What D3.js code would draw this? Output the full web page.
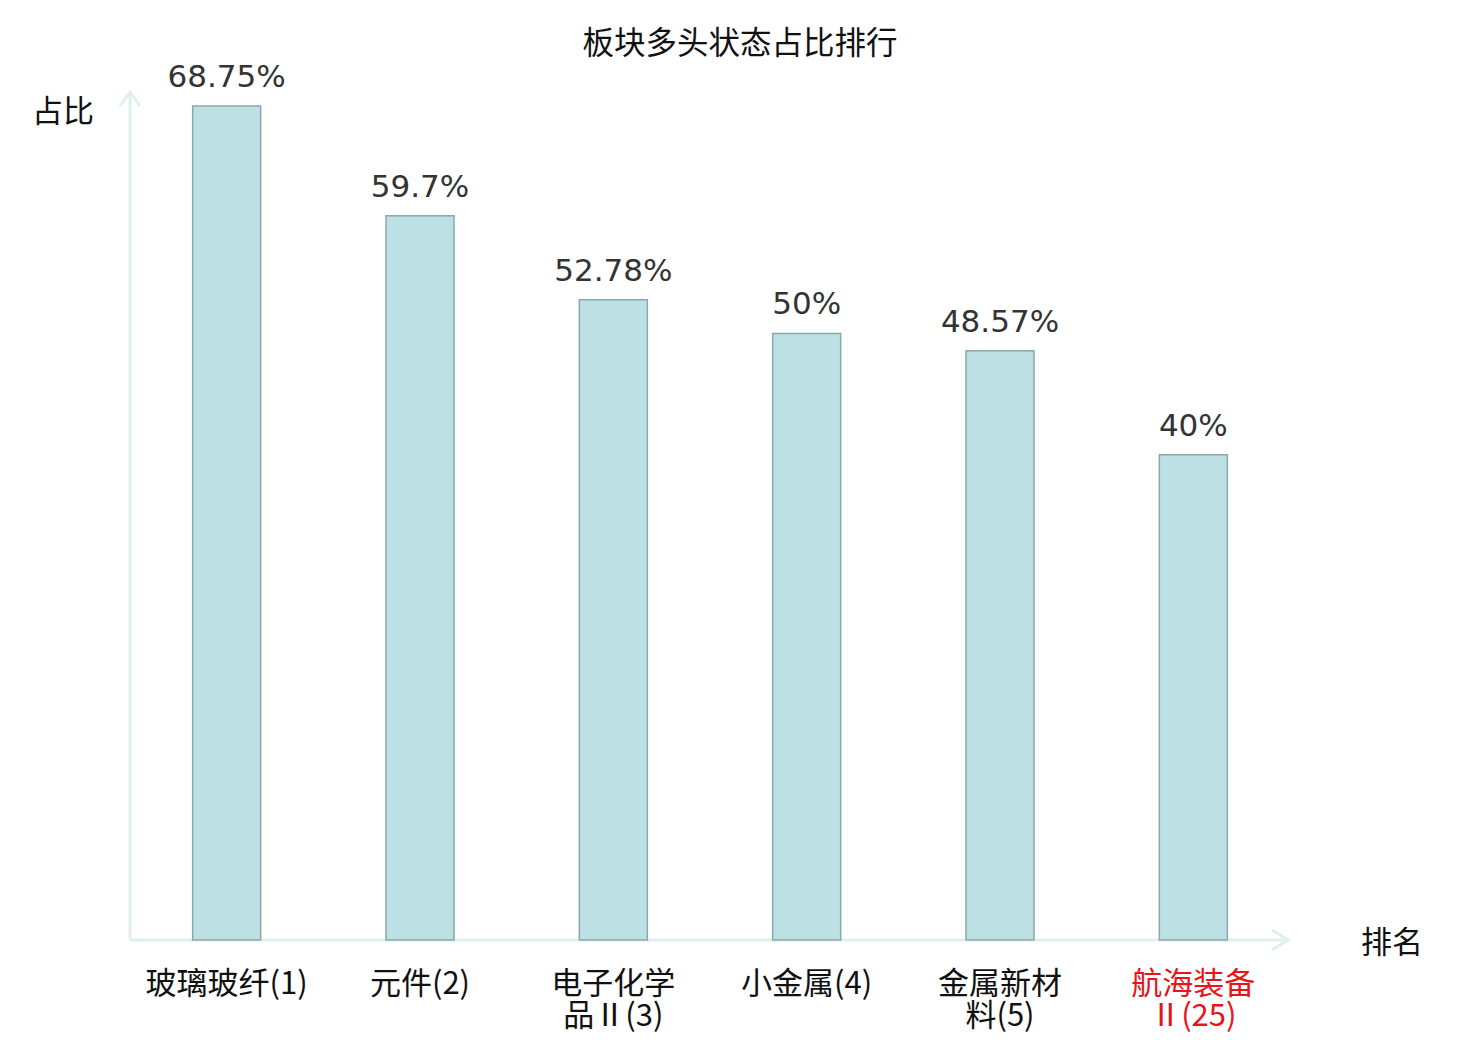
<!DOCTYPE html>
<html>
<head>
<meta charset="utf-8">
<script src="https://cdn.jsdelivr.net/npm/d3@7"></script>
<style>
body { margin: 0; background: #fff; }
</style>
</head>
<body>
<div id="chart"></div>
<script>
// data
var categories = ["玻璃玻纤(1)", "元件(2)", "电子化学品Ⅱ(3)", "小金属(4)", "金属新材料(5)", "航海装备Ⅱ(25)"];
var labelLines = [["玻璃玻纤(1)"], ["元件(2)"], ["电子化学", "品Ⅱ(3)"], ["小金属(4)"], ["金属新材", "料(5)"], ["航海装备", "Ⅱ(25)"]];
var values = [68.75, 59.7, 52.78, 50, 48.57, 40];
var valueLabels = ["68.75%", "59.7%", "52.78%", "50%", "48.57%", "40%"];
var highlight = [false, false, false, false, false, true];

var width = 1480, height = 1040;
var cjk = "'Noto Sans CJK SC', 'Noto Sans', sans-serif";
var axisColor = "#dff1ee";

var svg = d3.select("#chart").append("svg").attr("width", width).attr("height", height);

var x0 = 130, x1 = 1290, y0 = 940, yTop = 106;

var xscale = d3.scaleBand().domain(categories).range([x0, x1]).padding(0);
var yscale = d3.scaleLinear().domain([0, d3.max(values)]).range([y0, yTop]);
var barW = 68;

// title
svg.append("text").attr("x", 740).attr("y", 54).attr("text-anchor", "middle")
	.attr("font-family", cjk).attr("font-size", 31.5).attr("fill", "#111")
	.text("板块多头状态占比排行");

// axes
svg.append("line").attr("x1", x0).attr("y1", y0).attr("x2", x0).attr("y2", 92)
	.attr("stroke", axisColor).attr("stroke-width", 3);
svg.append("path").attr("d", "M120,106L130,92L140,106").attr("fill", "none")
	.attr("stroke", axisColor).attr("stroke-width", 3);
svg.append("line").attr("x1", x0).attr("y1", y0).attr("x2", 1288).attr("y2", y0)
	.attr("stroke", axisColor).attr("stroke-width", 3);
svg.append("path").attr("d", "M1272,930L1288,940L1272,950").attr("fill", "none")
	.attr("stroke", axisColor).attr("stroke-width", 3);

svg.append("text").attr("x", 63).attr("y", 122).attr("text-anchor", "middle")
	.attr("font-family", cjk).attr("font-size", 31).attr("fill", "#111").text("占比");
svg.append("text").attr("x", 1392).attr("y", 953).attr("text-anchor", "middle")
	.attr("font-family", cjk).attr("font-size", 31).attr("fill", "#111").text("排名");

// bars
svg.selectAll(".bar").data(values).enter().append("rect")
	.attr("class", "bar")
	.attr("x", function(d, i) { return xscale(categories[i]) + xscale.bandwidth() / 2 - barW / 2; })
	.attr("y", function(d) { return yscale(d); })
	.attr("width", barW)
	.attr("height", function(d) { return y0 - yscale(d); })
	.attr("fill", "#bce0e3")
	.attr("stroke", "#8aa9aa")
	.attr("stroke-width", 1.5);

// value labels
svg.selectAll(".val").data(values).enter().append("text")
	.attr("class", "val")
	.attr("x", function(d, i) { return xscale(categories[i]) + xscale.bandwidth() / 2; })
	.attr("y", function(d) { return yscale(d) - 19; })
	.attr("text-anchor", "middle")
	.attr("font-family", "'DejaVu Sans', sans-serif")
	.attr("font-size", 31)
	.attr("fill", "#333")
	.text(function(d, i) { return valueLabels[i]; });

// category labels
var lab = svg.selectAll(".cat").data(categories).enter().append("text")
	.attr("class", "cat")
	.attr("text-anchor", "middle")
	.attr("font-family", cjk)
	.attr("font-size", 31)
	.attr("fill", function(d, i) { return highlight[i] ? "#e8141a" : "#111"; });
lab.each(function(d, i) {
	var t = d3.select(this);
	var cx = xscale(d) + xscale.bandwidth() / 2;
	labelLines[i].forEach(function(s, k) {
		t.append("tspan").attr("x", cx).attr("y", 994 + k * 32).text(s);
	});
});
</script>
</body>
</html>
